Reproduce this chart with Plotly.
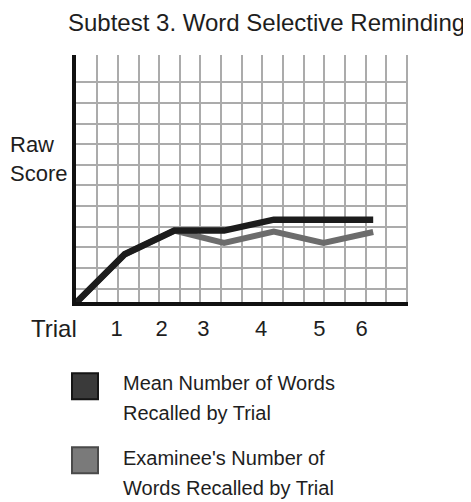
import plotly.graph_objects as go

# ---------------- data ----------------
trials = [0, 1, 2, 3, 4, 5, 6]
mean_words = [0, 2.4, 3.55, 3.55, 4.08, 4.08, 4.08]
examinee_words = [0, 2.4, 3.55, 2.95, 3.5, 2.95, 3.48]
tick_labels = ["1", "2", "3", "4", "5", "6"]
title_text = "Subtest 3. Word Selective Reminding"
y_title = "Raw<br>Score"
x_title = "Trial"
legend_lines = [["Mean Number of Words", "Recalled by Trial"],
                ["Examinee's Number of", "Words Recalled by Trial"]]

# ---------------- layout geometry ----------------
# page body has an 8px margin, so the figure sits at (8, 8) in the window
OFF = 8
W, H = 471 - OFF, 502 - OFF
# reference-window pixel positions of the plot area
RL, RR, RT, RB = 76, 408, 55, 302.5
L, R, T, B = RL - OFF, RR - OFF, RT - OFF, RB - OFF
X0PX, XSTEP = 75.0, 49.7        # window pixel of trial 0, pixels per trial
Y0PX, YSTEP = 304.3, 20.67      # window pixel of score 0, pixels per unit
FONT = "Liberation Sans, Arial, sans-serif"
TXT = "#1e1e1e"

def px2x(px):
    return (px - X0PX) / XSTEP

def px2y(py):
    return (Y0PX - py) / YSTEP

def pxp(px):
    return (px - OFF - L) / (R - L)

def pyp(py):
    return (B - (py - OFF)) / (B - T)

x_range = [px2x(RL), px2x(RR)]
y_range = [px2y(RB), px2y(RT)]
grid_x = [px2x(76.7 + 20.63 * k) for k in range(1, 17)]
grid_y = [px2y(82.3 + 20.67 * j) for j in range(11)]
tick_pos = [px2x(p) for p in (116.7, 161.7, 203.3, 261, 319.3, 361.7)]

fig = go.Figure()
fig.add_trace(go.Scatter(x=trials, y=examinee_words, mode="lines",
                         line=dict(color="#6c6c6c", width=6),
                         name="Examinee", showlegend=False, hoverinfo="skip"))
fig.add_trace(go.Scatter(x=trials, y=mean_words, mode="lines",
                         line=dict(color="#1c1c1c", width=6.5),
                         name="Mean", showlegend=False, hoverinfo="skip"))
fig.add_trace(go.Scatter(x=[], y=[], xaxis="x2", showlegend=False, hoverinfo="skip"))

annotations = [
    dict(text=title_text, x=pxp(467), y=pyp(22), xanchor="right", yanchor="middle",
         font=dict(size=24, color=TXT, family=FONT)),
    dict(text=y_title, x=pxp(8), y=pyp(159), xanchor="left", yanchor="middle",
         align="left", font=dict(size=22, color=TXT, family=FONT)),
    dict(text=x_title, x=pxp(29), y=pyp(329), xanchor="left", yanchor="middle",
         font=dict(size=24, color=TXT, family=FONT)),
]
legend_centers = [(383.5, 413.5), (458.5, 488.5)]
for lines, centers in zip(legend_lines, legend_centers):
    for line, cy in zip(lines, centers):
        annotations.append(dict(text=line, x=pxp(121), y=pyp(cy), xanchor="left",
                                yanchor="middle",
                                font=dict(size=20, color=TXT, family=FONT)))
for a in annotations:
    a.update(xref="paper", yref="paper", showarrow=False)

shapes = [
    dict(type="rect", xref="paper", yref="paper",
         x0=pxp(72), x1=pxp(98), y0=pyp(374), y1=pyp(400),
         fillcolor="#3a3a3a", line=dict(color="#151515", width=2)),
    dict(type="rect", xref="paper", yref="paper",
         x0=pxp(72), x1=pxp(98), y0=pyp(448), y1=pyp(474),
         fillcolor="#7a7a7a", line=dict(color="#4a4a4a", width=2)),
]

fig.update_layout(
    width=W, height=H,
    margin=dict(l=L, r=W - R, t=T, b=H - B, pad=0),
    paper_bgcolor="white", plot_bgcolor="white",
    showlegend=False,
    font=dict(family=FONT, size=22, color=TXT),
    xaxis=dict(range=x_range, tickmode="array", tickvals=grid_x, showticklabels=False,
               showgrid=True, gridcolor="#ababab", gridwidth=2, zeroline=False,
               showline=True, linecolor="#111111", linewidth=3.5, ticks=""),
    yaxis=dict(range=y_range, tickmode="array", tickvals=grid_y, showticklabels=False,
               showgrid=True, gridcolor="#ababab", gridwidth=2, zeroline=False,
               showline=True, linecolor="#111111", linewidth=3.5, ticks=""),
    xaxis2=dict(overlaying="x", anchor="y", side="bottom", range=x_range,
                tickmode="array", tickvals=tick_pos, ticktext=tick_labels,
                showgrid=False, zeroline=False, showline=False, ticks="",
                ticklabelstandoff=11, tickfont=dict(size=22, color=TXT, family=FONT)),
    annotations=annotations,
    shapes=shapes,
)

fig.write_html("out.html")
